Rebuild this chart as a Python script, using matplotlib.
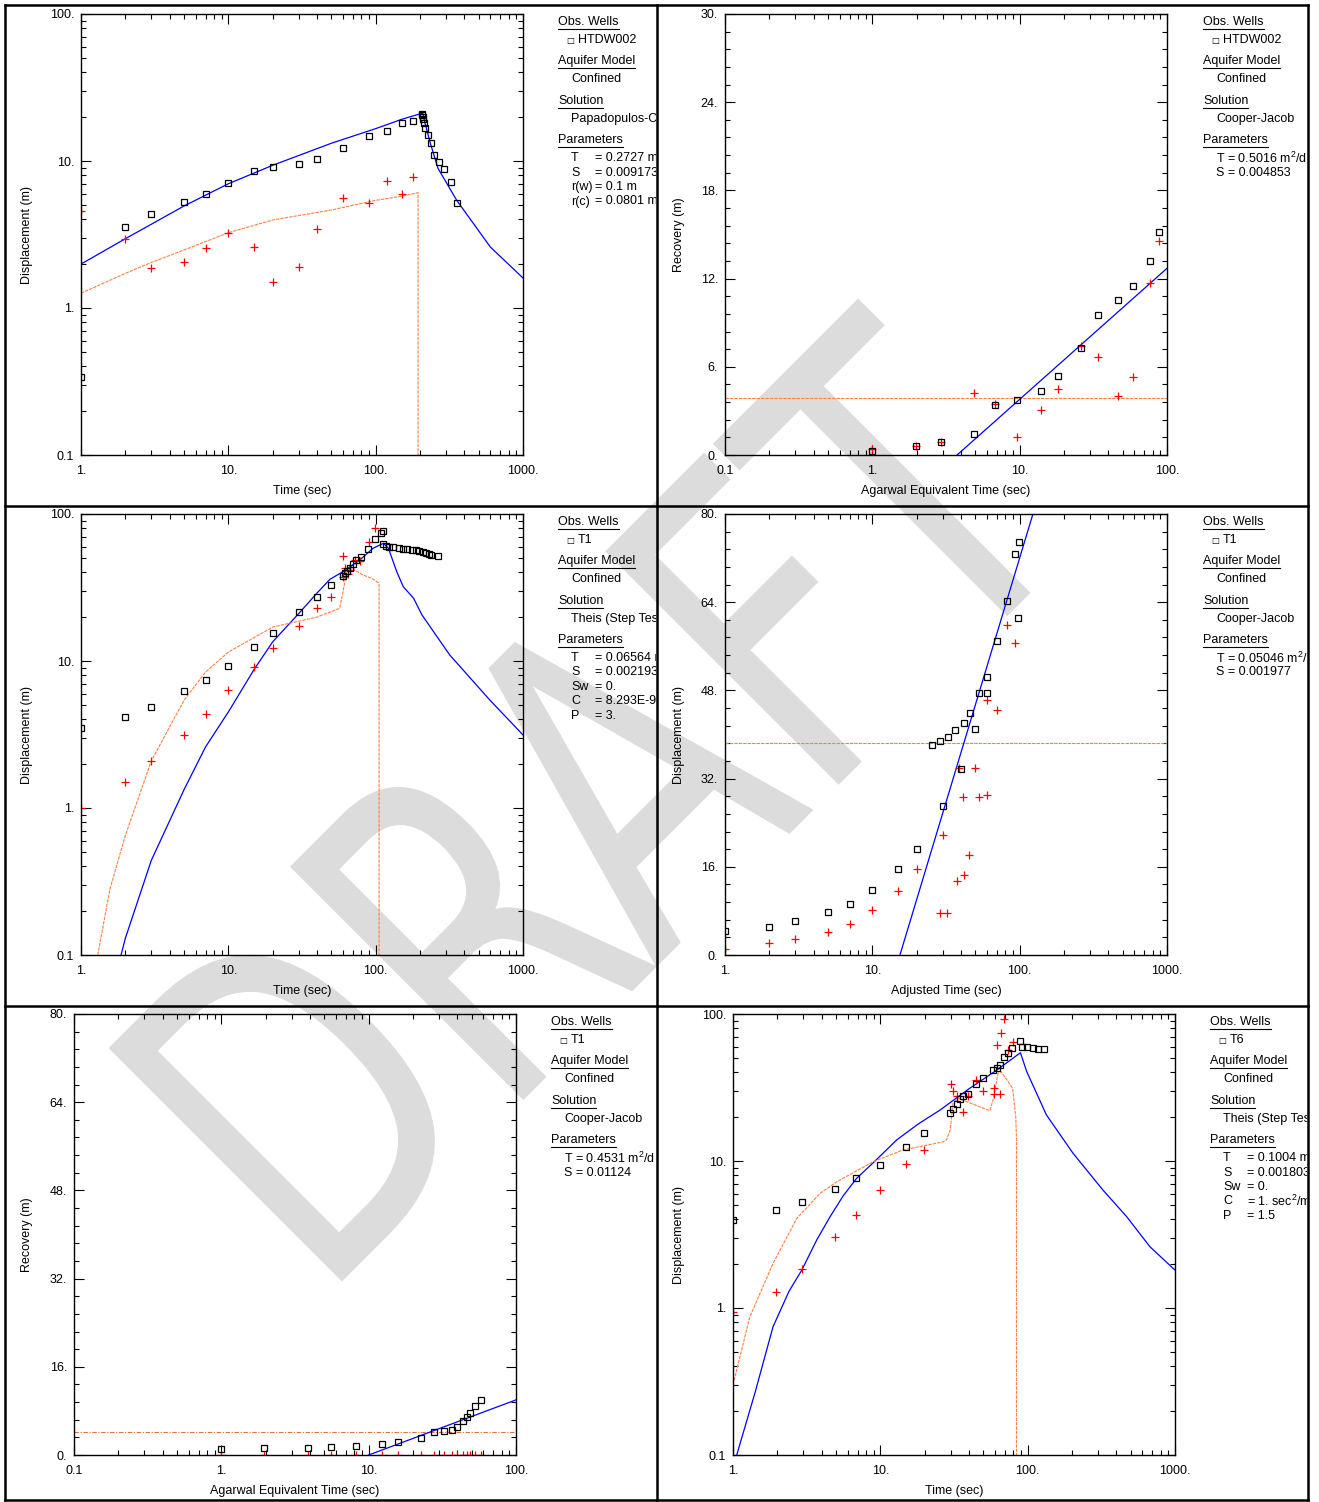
import matplotlib
matplotlib.use('Agg')
import matplotlib.pyplot as plt
from matplotlib.lines import Line2D
from matplotlib.ticker import LogLocator, AutoMinorLocator, FuncFormatter, NullFormatter
from matplotlib.textpath import TextPath
from matplotlib.patches import PathPatch
from matplotlib.font_manager import FontProperties
from matplotlib.transforms import Affine2D, IdentityTransform, Bbox, TransformedBbox

plt.rcParams['font.family'] = ['Liberation Sans', 'DejaVu Sans']
plt.rcParams['font.size'] = 9
plt.rcParams['mathtext.fontset'] = 'custom'
plt.rcParams['mathtext.rm'] = 'Liberation Sans'
plt.rcParams['mathtext.it'] = 'Liberation Sans:italic'

# ---------------- data ----------------
# panel 1 : HTDW002, Papadopulos-Cooper, displacement vs time
p1_sq_t = [1, 2, 3, 5, 7, 10, 15, 20, 30, 40, 60, 90, 120, 150, 180,
           205, 207, 209, 211, 213, 216, 228, 237, 250, 268, 290, 325, 357]
p1_sq_v = [0.34, 3.57, 4.36, 5.26, 6.0, 7.08, 8.55, 9.1, 9.5, 10.3, 12.2, 14.7, 16.0, 18.2, 18.7,
           21.0, 20.6, 20.0, 19.2, 18.0, 16.9, 15.1, 13.3, 11.0, 9.85, 8.87, 7.23, 5.2]
p1_pl_t = [1, 2, 3, 5, 7, 10, 15, 20, 30, 40, 60, 90, 120, 150, 180]
p1_pl_v = [4.57, 2.96, 1.86, 2.06, 2.56, 3.25, 2.6, 1.50, 1.91, 3.45, 5.63, 5.2, 7.28, 6.0, 7.74]
p1_fit_t = [1, 2, 5, 10, 20, 50, 100, 150, 209, 216, 235, 265, 355, 600, 1000]
p1_fit_v = [1.99, 2.96, 4.94, 7.0, 9.35, 13.2, 16.6, 19.2, 21.2, 18.2, 13.2, 8.9, 5.4, 2.6, 1.6]
p1_der_t = [1, 2, 3, 5, 10, 20, 50, 100, 150, 194, 194]
p1_der_v = [1.26, 1.72, 2.04, 2.48, 3.25, 3.97, 4.64, 5.4, 5.76, 6.09, 0.09]

# panel 2 : HTDW002, Cooper-Jacob, recovery vs Agarwal time
p2_sq_t = [1.0, 1.98, 2.93, 4.9, 6.8, 9.6, 14, 18.2, 26.1, 34, 46.5, 59, 76.8, 88.4]
p2_sq_v = [0.27, 0.6, 0.9, 1.43, 3.4, 3.74, 4.35, 5.37, 7.28, 9.52, 10.54, 11.5, 13.2, 15.17]
p2_pl_t = [1.0, 1.98, 2.93, 4.9, 6.8, 9.6, 14, 18.2, 26.1, 34, 46.5, 59, 76.8, 88.4]
p2_pl_v = [0.4, 0.6, 0.9, 4.22, 3.47, 1.22, 3.06, 4.49, 7.4, 6.67, 4.0, 5.3, 11.7, 14.56]
p2_fit_t = [3.76, 100]
p2_fit_v = [0.0, 12.7]
p2_level = 3.88

# panel 3 : T1, Theis (Step Test), displacement vs time
p3_sq_t = [1, 2, 3, 5, 7, 10, 15, 20, 30, 40, 50, 60, 62, 64, 67, 70, 74, 80, 89, 99, 108, 113,
           113, 117, 123, 132, 143, 153, 164, 176, 187, 198, 209, 219, 230, 238, 264]
p3_sq_v = [3.5, 4.16, 4.87, 6.25, 7.43, 9.25, 12.4, 15.5, 21.5, 27.2, 32.9, 37.9, 39.5, 40.8, 42.9,
           45.5, 48.9, 51, 57.8, 67.3, 74.6, 76.6,
           62.2, 60.6, 60, 59.4, 59, 57.8, 57.5, 57.2, 56.6, 55.7, 54.9, 54.3, 53.2, 52.6, 51.8]
p3_pl_t = [1, 2, 3, 5, 7, 10, 15, 20, 30, 40, 50, 60, 60, 62, 65, 67, 72, 78.5, 90, 99]
p3_pl_v = [1.0, 1.5, 2.09, 3.14, 4.36, 6.35, 9.1, 12.2, 17.3, 22.9, 27.1, 51.5, 37.5, 42.7,
           39.1, 41.6, 48.6, 47.9, 64.8, 80.6]
p3_fit_t = [1.87, 2, 3, 5, 7, 10, 15, 20, 30, 40, 49, 60, 78, 96, 113, 122, 139, 154, 181, 206,
            318, 595, 1000]
p3_fit_v = [0.1, 0.13, 0.44, 1.33, 2.6, 4.5, 8.8, 13.5, 21, 29, 36, 40.5, 48.6, 58.5, 63.2, 58.5,
            40.5, 32, 26.7, 20.6, 11, 5.43, 3.14]
p3_der_t = [1.3, 1.57, 2, 3, 5, 7, 10, 20, 40, 57, 60, 64, 70.5, 72, 82, 94, 105.5, 105.5]
p3_der_v = [0.1, 0.28, 0.65, 2.09, 5.4, 8.4, 11.5, 17, 19.9, 22.8, 29.6, 41.6, 42.8, 41.6, 38.5,
            36.5, 33.8, 0.09]

# panel 4 : T1, Cooper-Jacob, displacement vs adjusted time
p4_sq_t = [1, 2, 3, 5, 7, 10, 15, 20, 25.5, 29, 30, 32.6, 36.3, 39.9, 41.9, 46, 49.6, 53, 60, 60,
           70, 82, 93, 97, 99]
p4_sq_v = [4.35, 5.08, 6.17, 7.8, 9.25, 11.8, 15.6, 19.2, 38.1, 38.8, 27, 39.5, 40.8, 33.7, 42.1,
           43.9, 41, 47.5, 50.4, 47.5, 57, 64.2, 72.7, 61.1, 74.9]
p4_pl_t = [1, 2, 3, 5, 7, 10, 15, 20, 29, 30, 32, 37.6, 39, 41, 42, 45, 50, 53, 60, 60, 70, 82, 93]
p4_pl_v = [1.1, 2.2, 2.9, 4.2, 5.6, 8.2, 11.6, 15.6, 7.6, 21.8, 7.6, 13.4, 33.9, 28.7, 14.5, 18.1,
           33.9, 28.7, 29, 46.3, 44.4, 59.9, 56.6]
p4_fit_t = [15.4, 123]
p4_fit_v = [0.0, 80.0]
p4_level = 38.5

# panel 5 : T1, Cooper-Jacob, recovery vs Agarwal time
p5_sq_t = [1, 1.95, 3.88, 5.56, 8.17, 12.3, 15.8, 22.6, 27.6, 32.4, 36.5, 40, 43.4, 46.2, 49,
           52.5, 57.6]
p5_sq_v = [1.1, 1.27, 1.27, 1.45, 1.63, 1.94, 2.3, 3.14, 4.1, 4.4, 4.5, 5.1, 6.2, 6.95, 7.56,
           8.8, 10.0]
p5_pl_t = [1, 1.95, 3.88, 5.56, 8.17, 12.3, 15.8, 22.6, 27.6, 32.4, 36.5, 40, 43.4, 46.2, 49,
           52.5, 57.6]
p5_pl_v = [0.0] * 17
p5_fit_t = [10, 100]
p5_fit_v = [0.0, 10.0]
p5_level = 4.23

# panel 6 : T6, Theis (Step Test), displacement vs time
p6_sq_t = [1, 1.96, 2.95, 4.93, 6.84, 9.88, 14.9, 19.8, 29.8, 31, 33, 34.7, 36.5, 39.5, 44.6,
           49.4, 58.2, 61.8, 65, 69.4, 74, 78, 89, 92, 99, 108, 118, 129]
p6_sq_v = [3.97, 4.64, 5.27, 6.4, 7.62, 9.4, 12.5, 15.5, 21.2, 22.7, 24.3, 26.3, 27.5, 28.7,
           33.4, 36.5, 41.6, 42.7, 44.9, 50.6, 54.4, 58.3, 65.3, 60, 59.2, 58.3, 58, 57.4]
p6_pl_t = [1, 1.96, 2.95, 4.93, 6.84, 9.88, 14.9, 19.8, 30, 31, 33.2, 36.5, 39.5, 44.6, 49.4,
           59, 59, 62, 64.5, 66, 69, 74, 79]
p6_pl_v = [0.944, 1.29, 1.83, 3.05, 4.29, 6.35, 9.5, 11.9, 33.4, 29.8, 27.6, 21.4, 27.6, 35.5,
           29.8, 31.3, 28.7, 61.5, 28.5, 74, 92, 57, 64.8]
p6_fit_t = [1.06, 1.41, 1.87, 2.4, 2.93, 3.7, 4.56, 5.6, 6.9, 9.4, 12.9, 18, 25.4, 40, 61.8, 89.3,
            98.6, 134, 203, 324, 470, 676, 1000]
p6_fit_v = [0.1, 0.265, 0.746, 1.3, 1.81, 2.9, 4.18, 5.8, 7.62, 10.2, 13.9, 17.8, 22.2, 31,
            41.6, 54.5, 40.5, 20.6, 11.3, 6.35, 4.18, 2.61, 1.81]
p6_der_t = [1, 1.3, 1.87, 2.71, 3.9, 5.07, 8.95, 14.3, 26.7, 28.1, 29.8, 31.1, 33.9, 38.6, 55.3,
            58.2, 62.9, 66, 79, 83, 84, 84]
p6_der_v = [0.30, 0.87, 2.01, 4.07, 6.03, 7.23, 9.89, 11.9, 13.5, 13.9, 16.3, 24.7, 26.7, 25.3,
            22, 26, 39.5, 40.5, 31.3, 20, 14, 0.09]

W, H = 1319, 1502
fig = plt.figure(figsize=(W / 100, H / 100), dpi=100)

BLUE = '#0000ff'
ORANGE = '#ff7f40'


def tick_fmt(v, pos):
    if abs(v - 0.1) < 1e-9:
        return '0.1'
    return '%d.' % round(v)


def make_ax(l, t, r, b):
    ax = fig.add_axes([l / W, 1 - b / H, (r - l) / W, (b - t) / H])
    ax.set_facecolor('none')
    for s in ax.spines.values():
        s.set_linewidth(1.0)
    return ax


def style(ax, xlim, ylim, ylog, yticks=None, xlabel='', ylabel='', ylab_x=-0.109):
    ax.set_xscale('log')
    ax.set_xlim(xlim)
    ax.xaxis.set_major_locator(LogLocator(base=10, numticks=10))
    ax.xaxis.set_minor_locator(LogLocator(base=10, subs=range(2, 10), numticks=20))
    ax.xaxis.set_minor_formatter(NullFormatter())
    if ylog:
        ax.set_yscale('log')
        ax.yaxis.set_major_locator(LogLocator(base=10, numticks=10))
        ax.yaxis.set_minor_locator(LogLocator(base=10, subs=range(2, 10), numticks=20))
        ax.yaxis.set_minor_formatter(NullFormatter())
    else:
        ax.set_yticks(yticks)
        ax.yaxis.set_minor_locator(AutoMinorLocator(5))
    ax.set_ylim(ylim)
    ax.xaxis.set_major_formatter(FuncFormatter(tick_fmt))
    ax.yaxis.set_major_formatter(FuncFormatter(tick_fmt))
    ax.tick_params(which='both', direction='in', top=True, right=True, width=0.8, labelsize=9)
    ax.tick_params(which='major', length=7)
    ax.tick_params(which='minor', length=3.6)
    ax.tick_params(axis='x', pad=7)
    ax.tick_params(axis='y', pad=5)
    ax.set_xlabel(xlabel, fontsize=9)
    ax.set_ylabel(ylabel, fontsize=9)
    ax.xaxis.set_label_coords(0.5, -0.068)
    ax.yaxis.set_label_coords(ylab_x, 0.5)


def data(ax, sq_t, sq_v, pl_t, pl_v):
    ax.plot(pl_t, pl_v, '+', color='red', ms=6, mew=0.9)
    ax.plot(sq_t, sq_v, 's', mfc='none', mec='black', ms=4.8, mew=0.9)


# ---------- watermark ----------
tp = TextPath((0, 0), 'DRAFT', size=100, prop=FontProperties(family='DejaVu Sans'))
ext = tp.get_extents()
wm_len, wm_h = 1060, 330
wm_cx, wm_cy = 600, 790
tr = (Affine2D().translate(-(ext.x0 + ext.x1) / 2, -(ext.y0 + ext.y1) / 2)
      .scale(wm_len / ext.width, wm_h / ext.height).rotate_deg(45)
      .translate(wm_cx, H - wm_cy))
fig.add_artist(PathPatch(tr.transform_path(tp), facecolor='#dcdcdc', edgecolor='none',
                         transform=IdentityTransform(), zorder=-5))

# ---------- panel 1 ----------
ax1 = make_ax(81, 14, 523, 455)
ax1.plot(p1_fit_t, p1_fit_v, color=BLUE, lw=0.9)
ax1.plot(p1_der_t, p1_der_v, color=ORANGE, lw=0.8, ls=(0, (3, 1)))
data(ax1, p1_sq_t, p1_sq_v, p1_pl_t, p1_pl_v)
style(ax1, (1, 1000), (0.1, 100), True, xlabel='Time (sec)', ylabel='Displacement (m)')

# ---------- panel 2 ----------
ax2 = make_ax(725, 14, 1167, 455)
ax2.axhline(p2_level, color=ORANGE, lw=0.8, ls=(0, (3, 1)))
ax2.plot(p2_fit_t, p2_fit_v, color=BLUE, lw=0.9)
data(ax2, p2_sq_t, p2_sq_v, p2_pl_t, p2_pl_v)
style(ax2, (0.1, 100), (0, 30), False, yticks=[0, 6, 12, 18, 24, 30],
      xlabel='Agarwal Equivalent Time (sec)', ylabel='Recovery (m)', ylab_x=-0.09)

# ---------- panel 3 ----------
ax3 = make_ax(81, 514, 523, 955)
ax3.plot(p3_fit_t, p3_fit_v, color=BLUE, lw=0.9)
ax3.plot(p3_der_t, p3_der_v, color=ORANGE, lw=0.8, ls=(0, (3, 1)))
data(ax3, p3_sq_t, p3_sq_v, p3_pl_t, p3_pl_v)
style(ax3, (1, 1000), (0.1, 100), True, xlabel='Time (sec)', ylabel='Displacement (m)')

# ---------- panel 4 ----------
ax4 = make_ax(725, 514, 1167, 955)
ax4.axhline(p4_level, color=ORANGE, lw=0.8, ls=(0, (3, 1)))
ax4.plot(p4_fit_t, p4_fit_v, color=BLUE, lw=0.9)
data(ax4, p4_sq_t, p4_sq_v, p4_pl_t, p4_pl_v)
style(ax4, (1, 1000), (0, 80), False, yticks=[0, 16, 32, 48, 64, 80],
      xlabel='Adjusted Time (sec)', ylabel='Displacement (m)', ylab_x=-0.09)

# ---------- panel 5 ----------
ax5 = make_ax(74, 1014, 516, 1455)
ax5.axhline(p5_level, color='#e8703a', lw=0.8, ls=(0, (4, 1.5, 1, 1.5)))
ax5.plot(p5_fit_t, p5_fit_v, color=BLUE, lw=0.9)
data(ax5, p5_sq_t, p5_sq_v, p5_pl_t, p5_pl_v)
style(ax5, (0.1, 100), (0, 80), False, yticks=[0, 16, 32, 48, 64, 80],
      xlabel='Agarwal Equivalent Time (sec)', ylabel='Recovery (m)', ylab_x=-0.093)

# ---------- panel 6 ----------
ax6 = make_ax(733, 1014, 1175, 1455)
ax6.plot(p6_fit_t, p6_fit_v, color=BLUE, lw=0.9)
ax6.plot(p6_der_t, p6_der_v, color=ORANGE, lw=0.8, ls=(0, (3, 1)))
data(ax6, p6_sq_t, p6_sq_v, p6_pl_t, p6_pl_v)
style(ax6, (1, 1000), (0.1, 100), True, xlabel='Time (sec)', ylabel='Displacement (m)')

# ---------- legends (text blocks on the right of each plot) ----------
renderer = fig.canvas.get_renderer()


def ftext(x, y, s, clip_x, **kw):
    kw.setdefault('fontsize', 9)
    t = fig.text(x / W, 1 - y / H, s, va='center', ha='left', **kw)
    t.set_clip_box(TransformedBbox(Bbox([[0, 0], [clip_x / W, 1]]), fig.transFigure))
    t.set_clip_on(True)
    return t


def header(x, y, s, clip_x):
    t = ftext(x, y, s, clip_x)
    bb = t.get_window_extent(renderer)
    yy = bb.y0 - 1
    fig.add_artist(Line2D([bb.x0, bb.x1], [yy, yy], color='black', lw=0.8,
                          transform=IdentityTransform()))


def legend_block(x, y0, clip_x, well, solution, params):
    y0 = y0 + 2
    header(x, y0 + 20, 'Obs. Wells', clip_x)
    ftext(x + 8, y0 + 38, '\u25a1', clip_x, family='DejaVu Sans', fontsize=6)
    ftext(x + 20, y0 + 38, well, clip_x)
    header(x, y0 + 59, 'Aquifer Model', clip_x)
    ftext(x + 13, y0 + 77, 'Confined', clip_x)
    header(x, y0 + 99, 'Solution', clip_x)
    ftext(x + 13, y0 + 117, solution, clip_x)
    header(x, y0 + 138, 'Parameters', clip_x)
    for i, p in enumerate(params):
        y = y0 + 156 + 14.5 * i
        if isinstance(p, tuple):
            ftext(x + 13, y, p[0], clip_x)
            ftext(x + 37, y, p[1], clip_x)
        else:
            ftext(x + 13, y, p, clip_x)


# text past the panel edge is clipped, as in the original export
legend_block(558, 0, 656, 'HTDW002', 'Papadopulos-C',
             [('T', '= 0.2727 m'), ('S', '= 0.009173'), ('r(w)', '= 0.1 m'),
              ('r(c)', '= 0.0801 m')])
legend_block(1203, 0, 1307, 'HTDW002', 'Cooper-Jacob',
             ['T = 0.5016 m$^2$/d', 'S = 0.004853'])
legend_block(558, 500, 656, 'T1', 'Theis (Step Tes',
             [('T', '= 0.06564 m'), ('S', '= 0.002193'), ('Sw', '= 0.'),
              ('C', '= 8.293E-9'), ('P', '= 3.')])
legend_block(1203, 500, 1307, 'T1', 'Cooper-Jacob',
             ['T = 0.05046 m$^2$/', 'S = 0.001977'])
legend_block(551, 1000, 656, 'T1', 'Cooper-Jacob',
             ['T = 0.4531 m$^2$/d', 'S = 0.01124'])
legend_block(1210, 1000, 1307, 'T6', 'Theis (Step Tes',
             [('T', '= 0.1004 m'), ('S', '= 0.001803'), ('Sw', '= 0.'),
              ('C', '= 1. sec$^2$/m'), ('P', '= 1.5')])

# ---------- frame lines between panels ----------
frame = [((5, 5), (5, 1500)), ((1308, 1308), (5, 1500)), ((5, 1308), (5, 5)),
         ((5, 1308), (1500, 1500)), ((657, 657), (5, 1500)),
         ((5, 1308), (506, 506)), ((5, 1308), (1006, 1006))]
for xs, ys in frame:
    fig.add_artist(Line2D([x / W for x in xs], [1 - y / H for y in ys], color='black', lw=1.8,
                          transform=fig.transFigure))

fig.savefig('out.png', dpi=100)
